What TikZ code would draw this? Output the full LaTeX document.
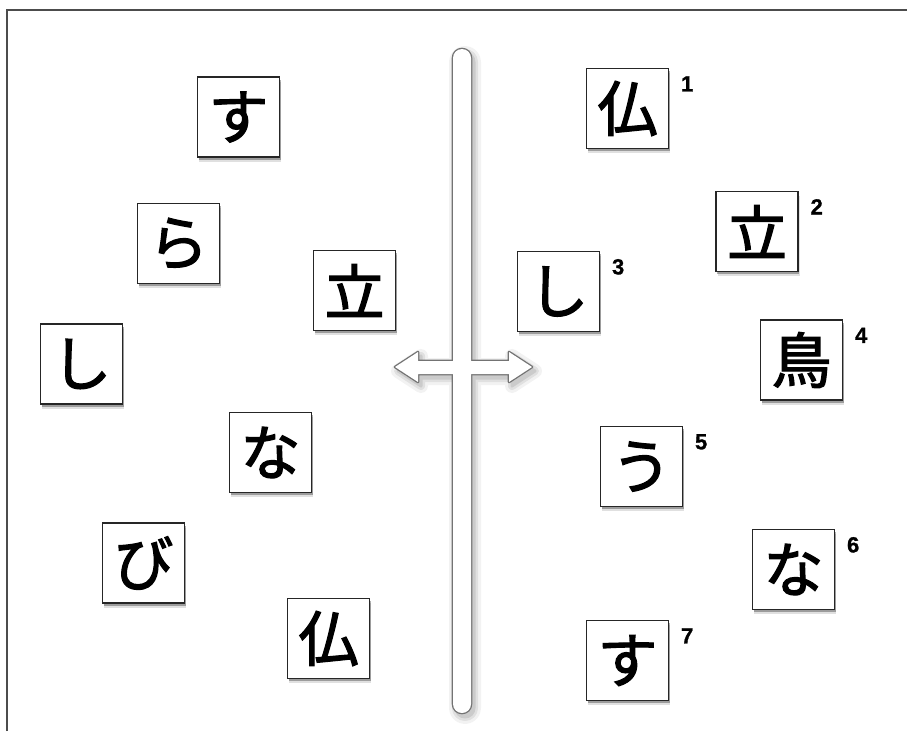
\documentclass[tikz,border=0pt]{standalone}
\usepackage{fontspec}
\newfontfamily\cjk[FakeBold=2]{Noto Sans CJK JP}
\newfontfamily\numfont[FakeBold=1]{Liberation Sans}
\usetikzlibrary{shadows}
\begin{document}
\begin{tikzpicture}[x=1pt,y=-1pt,
  kbox/.style={draw=black!85, line width=1.3pt, fill=white, minimum width=82pt, minimum height=80pt, inner sep=0pt,
    font=\cjk\fontsize{60}{60}\selectfont,
    drop shadow={shadow xshift=1.5pt,shadow yshift=-4.5pt,opacity=0.12,fill=black},
    drop shadow={shadow xshift=1pt,shadow yshift=-2.5pt,opacity=0.3,fill=black}},
  num/.style={font=\numfont\bfseries\fontsize{22}{22}\selectfont, inner sep=0pt, anchor=center},
  frameline/.style={draw=black!70, line width=1.8pt},
  outl/.style={draw=black!55, line width=2.6pt, line join=round},
  barfill/.style={fill=white}]
\useasboundingbox (0,0) rectangle (907,731);
\fill[white] (0,0) rectangle (907,731);
% frame
\draw[frameline] (7,731) -- (7,10) -- (907,10);
% shadows of bar and arrow
\foreach \w/\o in {14/0.05,8/0.07,3/0.09}{
  \begin{scope}[transparency group, opacity=\o, transform canvas={shift={(3pt,-4pt)}}]
    \draw[black, fill=black, line width=\w pt, line join=round, rounded corners=9pt] (453,49) rectangle (471,713);
    \draw[black, fill=black, line width=\w pt, line join=round] (395,367) -- (418,352) -- (418,361) -- (509,361) -- (509,352) -- (532,367) -- (509,382) -- (509,374) -- (418,374) -- (418,382) -- cycle;
  \end{scope}
}
% outlines (union)
\draw[outl, rounded corners=9pt] (453,49) rectangle (471,713);
\draw[outl] (395,367) -- (418,352) -- (418,361) -- (509,361) -- (509,352) -- (532,367) -- (509,382) -- (509,374) -- (418,374) -- (418,382) -- cycle;
% white fills
\fill[barfill, rounded corners=9pt] (453,49) rectangle (471,713);
\fill[barfill] (395,367) -- (418,352) -- (418,361) -- (509,361) -- (509,352) -- (532,367) -- (509,382) -- (509,374) -- (418,374) -- (418,382) -- cycle;
% left side
\node[kbox] (l1) at (238.5,117) {す};
\node[kbox] (l2) at (178.5,243.5) {ら};
\node[kbox] (l3) at (354.5,290.5) {立};
\node[kbox] (l4) at (81.5,364) {し};
\node[kbox] (l5) at (270.5,452.5) {な};
\node[kbox] (l6) at (143.5,563) {び};
\node[kbox] (l7) at (328.5,638.5) {仏};
% right side
\node[kbox] (r1) at (627.5,108.5) {仏};
\node[kbox] (r2) at (757,231.5) {立};
\node[kbox] (r3) at (558.5,291.5) {し};
\node[kbox] (r4) at (801.5,360) {鳥};
\node[kbox] (r5) at (641.5,466.5) {う};
\node[kbox] (r6) at (793.5,569.5) {な};
\node[kbox] (r7) at (627.5,660.5) {す};
\foreach \i in {1,...,7}{
  \node[num] (n\i) at ([xshift=18pt,yshift=-16pt]r\i.north east) {\i};
}
\end{tikzpicture}
\end{document}
